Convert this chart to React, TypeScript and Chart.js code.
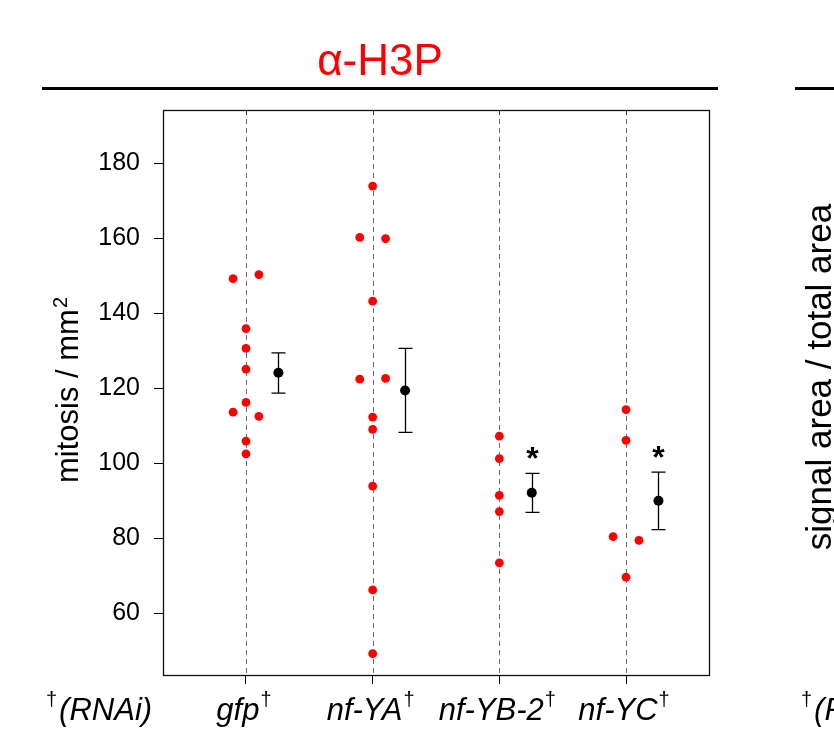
import React, { useEffect, useRef } from 'react';
import { Chart, registerables } from 'chart.js';

Chart.register(...registerables);

const FONT = '"Liberation Sans", Arial, Helvetica, sans-serif';

// ---------- data ----------
const categories = ['gfp', 'nf-YA', 'nf-YB-2', 'nf-YC'];
const panelTitle = 'α-H3P';
const yAxisLabel = 'mitosis / mm';
const yAxisLabelSup = '2';
const rnaiLabel = '(RNAi)';
const nextPanelLabel = 'signal area / total area';

const gfpValues = [149.2, 150.3, 135.9, 130.6, 125.1, 116.2, 113.6, 112.5, 105.9, 102.5];
const gfpSides = [-1, 1, 0, 0, 0, 0, -1, 1, 0, 0];
const nfYAValues = [173.9, 160.2, 159.9, 143.2, 122.4, 122.6, 112.3, 109.0, 93.9, 66.2, 49.2];
const nfYASides = [0, -1, 1, 0, -1, 1, 0, 0, 0, 0, 0];
const nfYBValues = [107.2, 101.2, 91.4, 87.1, 73.4];
const nfYBSides = [0, 0, 0, 0, 0];
const nfYCValues = [114.3, 106.1, 80.4, 79.4, 69.6];
const nfYCSides = [0, 0, -1, 1, 0];

const means = [124.1, 119.4, 92.1, 90.0];
const errLow = [118.7, 108.2, 86.9, 82.3];
const errHigh = [129.4, 130.6, 97.3, 97.6];
const significant = [false, false, true, true];

const yTicks = [60, 80, 100, 120, 140, 160, 180];
const Y_MIN = 43.5;
const Y_MAX = 194.2;
const X_MIN = -0.655;
const X_MAX = 3.655;

const groupValues = [gfpValues, nfYAValues, nfYBValues, nfYCValues];
const groupSides = [gfpSides, nfYASides, nfYBSides, nfYCSides];

// ---------- style ----------
const JITTER = 0.102;
const MEAN_OFFSET = 0.256;

function drawDaggerText(
  ctx: CanvasRenderingContext2D,
  text: string,
  x: number,
  baseline: number,
  mode: 'suffix-center' | 'prefix-left',
  size: number
) {
  const mainFont = `italic ${size}px ${FONT}`;
  const dagFont = `${Math.round(size * 0.66)}px ${FONT}`;
  ctx.font = mainFont;
  const wMain = ctx.measureText(text).width;
  ctx.font = dagFont;
  const wDag = ctx.measureText('†').width;
  const gap = 1;
  const raise = size * 0.45;
  ctx.fillStyle = '#000';
  ctx.textBaseline = 'alphabetic';
  ctx.textAlign = 'left';
  if (mode === 'suffix-center') {
    const total = wMain + gap + wDag;
    const start = x - total / 2;
    ctx.font = mainFont;
    ctx.fillText(text, start, baseline);
    ctx.font = dagFont;
    ctx.fillText('†', start + wMain + gap, baseline - raise);
  } else {
    ctx.font = dagFont;
    ctx.fillText('†', x, baseline - raise);
    ctx.font = mainFont;
    ctx.fillText(text, x + wDag + 2, baseline);
  }
}

const decorPlugin = {
  id: 'decor',
  beforeDatasetsDraw(chart: any) {
    const { ctx, chartArea: a, scales } = chart;
    const x = scales.x;
    const y = scales.y;
    ctx.save();
    // dashed category guides
    ctx.strokeStyle = '#6e6e6e';
    ctx.lineWidth = 1;
    ctx.setLineDash([5, 4]);
    categories.forEach((_, i) => {
      const px = Math.round(x.getPixelForValue(i)) + 0.5;
      ctx.beginPath();
      ctx.moveTo(px, a.top);
      ctx.lineTo(px, a.bottom);
      ctx.stroke();
    });
    ctx.setLineDash([]);
    // error bars
    ctx.strokeStyle = '#000';
    ctx.lineWidth = 1.3;
    means.forEach((_, i) => {
      const px = Math.round(x.getPixelForValue(i + MEAN_OFFSET)) + 0.5;
      const yt = y.getPixelForValue(errHigh[i]);
      const yb = y.getPixelForValue(errLow[i]);
      ctx.beginPath();
      ctx.moveTo(px, yt);
      ctx.lineTo(px, yb);
      ctx.moveTo(px - 7, yt);
      ctx.lineTo(px + 7, yt);
      ctx.moveTo(px - 7, yb);
      ctx.lineTo(px + 7, yb);
      ctx.stroke();
      if (significant[i]) {
        ctx.fillStyle = '#000';
        ctx.font = `bold 32px ${FONT}`;
        ctx.textAlign = 'center';
        ctx.textBaseline = 'alphabetic';
        ctx.fillText('*', px, yt - 22 + 18);
      }
    });
    ctx.restore();
  },
  afterDraw(chart: any) {
    const { ctx, chartArea: a, scales } = chart;
    const x = scales.x;
    ctx.save();
    // frame
    ctx.strokeStyle = '#111';
    ctx.lineWidth = 1.3;
    ctx.strokeRect(Math.round(a.left) + 0.5, Math.round(a.top) + 0.5, Math.round(a.width), Math.round(a.height));
    // inner top ticks
    ctx.lineWidth = 1;
    ctx.strokeStyle = '#333';
    categories.forEach((_, i) => {
      const px = Math.round(x.getPixelForValue(i)) + 0.5;
      ctx.beginPath();
      ctx.moveTo(px, a.top);
      ctx.lineTo(px, a.top + 5);
      ctx.stroke();
    });
    // title
    ctx.fillStyle = '#ff0000';
    ctx.font = `44px ${FONT}`;
    ctx.textAlign = 'center';
    ctx.textBaseline = 'alphabetic';
    ctx.fillText(panelTitle, 380, 75);
    // title rules
    ctx.strokeStyle = '#000';
    ctx.lineWidth = 3;
    ctx.beginPath();
    ctx.moveTo(42, 88.5);
    ctx.lineTo(718, 88.5);
    ctx.moveTo(795, 88.5);
    ctx.lineTo(834, 88.5);
    ctx.stroke();
    // y axis label
    ctx.save();
    ctx.translate(78, 390);
    ctx.rotate(-Math.PI / 2);
    ctx.fillStyle = '#000';
    ctx.font = `31px ${FONT}`;
    const w1 = ctx.measureText(yAxisLabel).width;
    ctx.font = `20px ${FONT}`;
    const w2 = ctx.measureText(yAxisLabelSup).width;
    const start = -(w1 + w2 + 1) / 2;
    ctx.textAlign = 'left';
    ctx.font = `31px ${FONT}`;
    ctx.fillText(yAxisLabel, start, 0);
    ctx.font = `20px ${FONT}`;
    ctx.fillText(yAxisLabelSup, start + w1 + 1, -11);
    ctx.restore();
    // next panel label (cut off)
    ctx.save();
    ctx.translate(831, 377);
    ctx.rotate(-Math.PI / 2);
    ctx.fillStyle = '#000';
    ctx.font = `35px ${FONT}`;
    ctx.textAlign = 'center';
    ctx.fillText(nextPanelLabel, 0, 0);
    ctx.restore();
    // category labels
    categories.forEach((c, i) => {
      drawDaggerText(ctx, c, x.getPixelForValue(i) - 2, 720, 'suffix-center', 31);
    });
    drawDaggerText(ctx, rnaiLabel, 46, 720, 'prefix-left', 31);
    drawDaggerText(ctx, rnaiLabel, 801, 720, 'prefix-left', 31);
    ctx.restore();
  },
};

export default function App() {
  const ref = useRef<HTMLCanvasElement | null>(null);
  useEffect(() => {
    document.body.style.margin = '0';
    Chart.defaults.font.family = FONT;
    const pointData = groupValues.flatMap((vals, i) =>
      vals.map((v, k) => ({ x: i + groupSides[i][k] * JITTER, y: v }))
    );
    const meanData = means.map((m, i) => ({ x: i + MEAN_OFFSET, y: m }));
    const chart = new Chart(ref.current as HTMLCanvasElement, {
      type: 'scatter',
      data: {
        datasets: [
          {
            data: pointData,
            backgroundColor: '#ff0000',
            borderWidth: 0,
            pointRadius: 4.4,
          },
          {
            data: meanData,
            backgroundColor: '#000',
            borderWidth: 0,
            pointRadius: 5,
          },
        ],
      },
      options: {
        responsive: false,
        animation: false,
        devicePixelRatio: 1,
        layout: { padding: { top: 110, right: 125, left: 0, bottom: 0 } },
        plugins: { legend: { display: false }, tooltip: { enabled: false }, title: { display: false } },
        scales: {
          x: {
            type: 'linear',
            min: X_MIN,
            max: X_MAX,
            afterBuildTicks: (s: any) => {
              s.ticks = categories.map((_, i) => ({ value: i }));
            },
            afterFit: (s: any) => {
              s.height = 62;
            },
            grid: { drawOnChartArea: false, drawTicks: true, tickLength: 9, color: '#000', lineWidth: 1 },
            border: { display: false },
            ticks: { callback: () => '', font: { size: 10 } },
          },
          y: {
            type: 'linear',
            min: Y_MIN,
            max: Y_MAX,
            afterBuildTicks: (s: any) => {
              s.ticks = yTicks.map((v) => ({ value: v }));
            },
            afterFit: (s: any) => {
              s.width = 163;
            },
            grid: { drawOnChartArea: false, drawTicks: true, tickLength: 9, color: '#000', lineWidth: 1 },
            border: { display: false },
            ticks: { color: '#000', font: { size: 25, family: FONT }, padding: 14 },
          },
        },
      },
      plugins: [decorPlugin],
    });
    return () => chart.destroy();
  }, []);
  return (
    <div style={{ width: 834, height: 737, overflow: 'hidden', background: '#fff' }}>
      <canvas ref={ref} width={834} height={737} style={{ display: 'block' }} />
    </div>
  );
}
